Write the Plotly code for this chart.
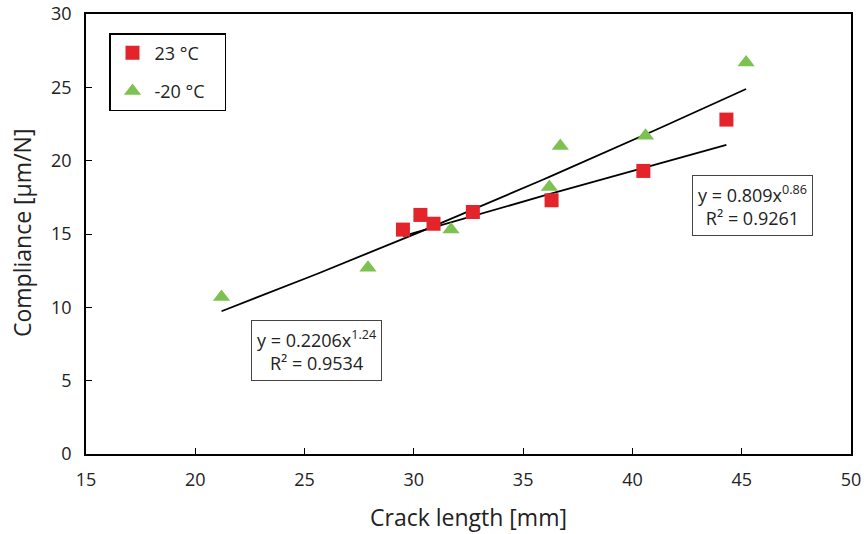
import numpy as np
import plotly.graph_objects as go

# 23 °C data
x_23 = [29.5, 30.3, 30.9, 32.7, 36.3, 40.5, 44.3]
y_23 = [15.3, 16.3, 15.7, 16.5, 17.3, 19.3, 22.8]
# -20 °C data
x_m20 = [21.2, 27.9, 31.7, 36.2, 36.7, 40.6, 45.2]
y_m20 = [10.7, 12.7, 15.3, 18.2, 21.0, 21.7, 26.7]

# power-law trendline coefficients (from chart labels)
fit_23 = (0.809, 0.86)
fit_m20 = (0.2206, 1.24)

x_ticks = [15, 20, 25, 30, 35, 40, 45, 50]
y_ticks = [0, 5, 10, 15, 20, 25, 30]

FONT = "Open Sans"
TXT = "#222"

L, R, T, B = 86, 15, 14, 80
W, H = 866, 534
PW, PH = W - L - R, H - T - B


def trend(xs, coef):
    xx = np.linspace(min(xs), max(xs), 60)
    return xx, coef[0] * xx ** coef[1]


def px_to_domain(px, py):
    return (px - L) / PW, (H - B - py) / PH


fig = go.Figure()

tx, ty = trend(x_23, fit_23)
fig.add_trace(go.Scatter(x=tx, y=ty, mode="lines", line=dict(color="black", width=1.8),
                         showlegend=False, hoverinfo="skip"))
tx, ty = trend(x_m20, fit_m20)
fig.add_trace(go.Scatter(x=tx, y=ty, mode="lines", line=dict(color="black", width=1.8),
                         showlegend=False, hoverinfo="skip"))

fig.add_trace(go.Scatter(x=x_23, y=y_23, mode="markers", name="23 °C\u00a0\u00a0\u00a0", legendgroup="a",
                         marker=dict(symbol="square", size=14, color="#E3242B")))
fig.add_trace(go.Scatter(x=x_m20, y=y_m20, mode="markers", name="-20 °C\u00a0\u00a0\u00a0", legendgroup="b",
                         marker=dict(symbol="triangle-up", size=15, color="#7DC251")))

axis_common = dict(showline=True, linecolor="black", linewidth=1.5, mirror=True,
                   ticks="inside", ticklen=6, tickcolor="black", showgrid=False,
                   zeroline=False, automargin=False,
                   tickfont=dict(size=18, color=TXT))

fig.update_layout(
    width=W, height=H,
    margin=dict(l=L, r=R, t=T, b=B),
    paper_bgcolor="white", plot_bgcolor="white",
    font=dict(family=FONT, color=TXT),
    xaxis=dict(range=[15, 50], tickvals=x_ticks, ticklabelstandoff=9, **axis_common),
    yaxis=dict(range=[0, 30], tickvals=y_ticks, ticklabelstandoff=9, **axis_common),
    legend=dict(x=(109 - L) / PW, y=(H - B - 33) / PH, xanchor="left", yanchor="top",
                bordercolor="black", borderwidth=1.5, bgcolor="white",
                font=dict(size=18, color=TXT), tracegroupgap=12, itemwidth=34),
    showlegend=True,
)

# axis titles
fig.add_annotation(x=(468 - L) / PW, y=(H - B - 517) / PH, xref="x domain", yref="y domain",
                   text="Crack length [mm]", showarrow=False, xanchor="center", yanchor="middle",
                   font=dict(size=23, color=TXT))
fig.add_annotation(x=(22 - L) / PW, y=(H - B - 233) / PH, xref="x domain", yref="y domain",
                   text="Compliance [μm/N]", showarrow=False, textangle=-90,
                   xanchor="center", yanchor="middle", font=dict(size=23, color=TXT))

# trendline equation boxes
bx, by = px_to_domain(752, 205)
fig.add_annotation(x=bx, y=by, xref="x domain", yref="y domain", showarrow=False,
                   xanchor="center", yanchor="middle",
                   text="y = 0.809x<sup>0.86</sup><br>R² = 0.9261",
                   font=dict(size=18, color=TXT), bordercolor="#444", borderwidth=1,
                   borderpad=5, bgcolor="white", align="center")
bx, by = px_to_domain(316, 350)
fig.add_annotation(x=bx, y=by, xref="x domain", yref="y domain", showarrow=False,
                   xanchor="center", yanchor="middle",
                   text="y = 0.2206x<sup>1.24</sup><br>R² = 0.9534",
                   font=dict(size=18, color=TXT), bordercolor="#444", borderwidth=1,
                   borderpad=5, bgcolor="white", align="center")

fig.write_html("out.html")
